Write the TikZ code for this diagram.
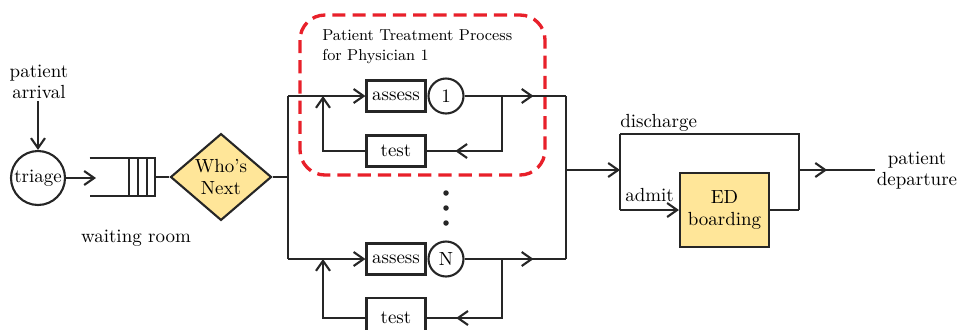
\documentclass[tikz,border=0pt]{standalone}
\usetikzlibrary{arrows.meta,positioning,shapes.geometric,decorations.markings}
\definecolor{edyellow}{HTML}{FFE699}
\definecolor{physred}{HTML}{E8202A}
\tikzset{
  >={Straight Barb[length=2mm,width=2.8mm]},
  flow/.style={draw=black!85, line width=1.2pt},
  midarrow/.style={postaction={decorate}, decoration={markings, mark=at position #1 with {\arrow{>}}}},
  lbl/.style={align=center, inner sep=1pt},
  station/.style={circle, draw=black!85, line width=1.2pt, inner sep=0pt},
  task/.style={rectangle, draw=black!85, line width=1.2pt, minimum width=1.18cm, minimum height=0.62cm, inner sep=1pt},
  decision/.style={diamond, draw=black!85, fill=edyellow, line width=1.2pt, minimum width=2.02cm, minimum height=1.3cm, inner sep=0pt, align=center},
  boardbox/.style={rectangle, draw=black!85, fill=edyellow, line width=1.2pt, minimum width=1.78cm, minimum height=1.48cm, align=center},
  physician/.style={draw=physred, line width=1.9pt, dash pattern=on 7.5pt off 4pt, rounded corners=0.5cm}
}
\begin{document}
\begin{tikzpicture}[x=0.02cm, y=-0.02cm, font=\fontsize{10.8}{12}\selectfont]
    \useasboundingbox (0,0) rectangle (962,329);

    % Arrival, triage and waiting room
    \node[lbl] (arrival) at (39,82) {patient\\arrival};
    \node[station, minimum size=1.08cm] (triage) at (38,178) {triage};
    \draw[flow, ->] (arrival.south -| triage) -- (triage);
    \node[minimum width=1.3cm, minimum height=0.76cm, inner sep=0pt] (queue) at (122.5,177) {};
    \draw[flow] (queue.north west) -- (queue.north east) -- (queue.south east) -- (queue.south west);
    \foreach \x in {129,138,147}
        \draw[flow] (\x,158) -- (\x,196);
    \coordinate (qin) at (96,178);
    \draw[flow, ->] (triage) -- (qin);
    \node[lbl] (wait) at (136,238) {waiting room};

    % Who's next
    \node[decision] (who) at (221,177) {Who's\\Next};
    \draw[flow] (queue.east) -- (who.west);
    \coordinate (split) at (288,177);
    \coordinate (splitT) at (288,96);
    \coordinate (splitB) at (288,259);
    \draw[flow] (who.east) -- (split);
    \draw[flow] (splitT) -- (splitB);

    % Physician 1
    \draw[physician] (300,15) rectangle (545,175);
    \node[anchor=west, align=left, inner sep=0pt, font=\fontsize{9}{11.3}\selectfont] (title) at (322,47) {Patient Treatment Process\\for Physician 1};
    \node[task] (assess1) at (396,96) {assess};
    \node[station, minimum size=0.7cm] (doc1) at (446,96) {1};
    \node[task] (test1) at (396,151) {test};
    \coordinate (fork1) at (502,96);
    \coordinate (ret1) at (323,96);
    \coordinate (mergeT) at (566,96);
    \draw[flow, ->] (splitT) -- (assess1);
    \draw[flow, midarrow=0.68] (doc1) -- (mergeT);
    \draw[flow, midarrow=0.78] (fork1) |- (test1);
    \draw[flow, ->] (test1) -| (ret1);

    % More physicians
    \foreach \y in {193,208,223}
        \fill[black!85] (446,\y) circle (0.055cm);

    % Physician N
    \node[task] (assessN) at (396,259) {assess};
    \node[station, minimum size=0.7cm] (docN) at (446,259) {N};
    \node[task, minimum height=0.8cm] (testN) at (396,318) {test};
    \coordinate (forkN) at (502,259);
    \coordinate (retN) at (323,259);
    \coordinate (mergeB) at (566,259);
    \draw[flow, ->] (splitB) -- (assessN);
    \draw[flow, midarrow=0.68] (docN) -- (mergeB);
    \draw[flow, midarrow=0.78] (forkN) |- (testN);
    \draw[flow, ->] (testN) -| (retN);

    % Disposition
    \coordinate (mergeM) at (566,170);
    \coordinate (dsplit) at (620,170);
    \coordinate (dT) at (620,134);
    \coordinate (dB) at (620,210);
    \coordinate (jT) at (799,134);
    \coordinate (jB) at (799,210);
    \coordinate (jM) at (799,170);
    \coordinate (exit) at (875,170);
    \draw[flow] (mergeT) -- (mergeB);
    \draw[flow, ->] (mergeM) -- (dsplit);
    \draw[flow] (dT) -- (dB);
    \node[boardbox] (ed) at (724.5,210) {ED\\boarding};
    \draw[flow] (dT) -- (jT) -- (jB);
    \draw[flow, ->] (dB) -- (ed);
    \draw[flow] (ed) -- (jB);
    \draw[flow, midarrow=0.37] (jM) -- (exit);
    \node[anchor=base west, inner sep=0pt] (dis) at (620,127) {discharge};
    \node[anchor=base west, inner sep=0pt] (adm) at (625,201) {admit};
    \node[lbl] (depart) at (917,171) {patient\\departure};
\end{tikzpicture}
\end{document}
